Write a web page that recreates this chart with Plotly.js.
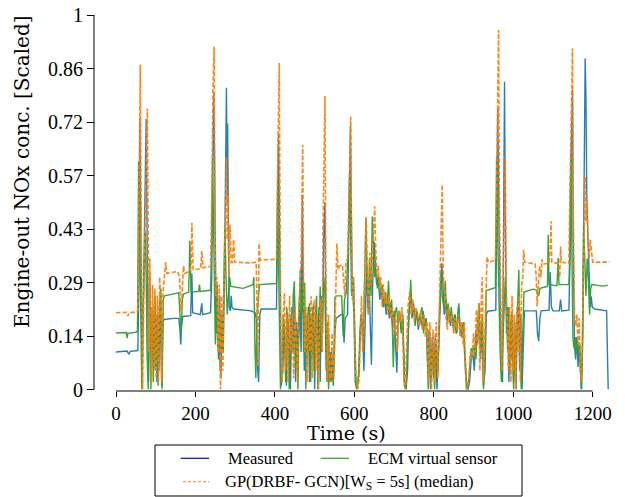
<!DOCTYPE html>
<html>
<head>
<meta charset="utf-8">
<script src="https://cdn.plot.ly/plotly-3.0.1.min.js"></script>
<style>html,body{margin:0;padding:0;background:#fff;}#chart{width:625px;height:497px;}</style>
</head>
<body>
<div id="chart"></div>
<script>
// ---- Data ----
const measuredTime = [0,14,28,32,36,55,58,60,62,64,
 66,69,73,76,78,80,82,85,87,89,
 92,95,98,100,103,105,108,111,113,115,
 118,121,145,158,161,163,165,168,188,191,
 193,212,216,218,238,241,243,246,248,250,
 252,255,258,261,264,267,270,273,276,278,
 280,281,283,285,288,290,292,296,340,350,
 353,356,359,362,365,404,406,409,411,413,
 416,420,423,426,429,432,436,439,443,446,
 449,452,455,458,462,466,469,471,474,477,
 480,484,487,490,494,497,500,504,508,511,
 514,517,520,523,526,528,531,535,539,543,
 547,551,554,566,571,574,577,583,587,590,
 592,595,598,601,604,608,612,616,620,624,
 628,631,634,637,640,643,646,650,653,656,
 660,664,668,672,676,680,684,688,692,696,
 700,704,707,710,714,718,722,726,730,734,
 737,741,745,749,753,757,761,765,769,773,
 777,781,785,788,792,796,800,804,808,812,
 816,820,823,826,830,834,838,842,846,850,
 854,858,862,866,870,874,878,882,886,890,
 894,898,902,906,910,914,918,922,925,929,
 932,936,956,958,961,964,967,970,973,976,
 978,980,983,986,989,992,995,998,1001,1004,
 1007,1010,1013,1016,1019,1022,1025,1028,1058,1061,
 1064,1067,1070,1090,1093,1096,1100,1116,1119,1122,
 1140,1143,1146,1149,1151,1154,1157,1160,1163,1166,
 1169,1172,1175,1178,1181,1183,1185,1188,1191,1194,
 1196,1199,1205,1235,1237,1239];
const measuredValues = [0.100,0.101,0.103,0.094,0.102,0.104,0.30,0.725,0.40,0.20,
 0.03,0.25,0.55,0.723,0.45,0.12,0.02,0.31,0.18,0.02,
 0.22,0.05,0.25,0.12,0.02,0.20,0.05,0.24,0.15,0.01,
 0.18,0.187,0.19,0.19,0.16,0.12,0.17,0.195,0.197,0.31,
 0.205,0.20,0.23,0.20,0.205,0.30,0.55,0.79,0.62,0.35,
 0.15,0.28,0.08,0.25,0.03,0.20,0.10,0.30,0.55,0.806,
 0.50,0.71,0.42,0.22,0.21,0.25,0.22,0.215,0.21,0.205,
 0.19,0.06,0.02,0.20,0.215,0.215,0.40,0.685,0.50,0.20,
 0.01,0.05,0.18,0.10,0.01,0.20,0.12,0.00,0.22,0.10,
 0.25,0.02,0.18,0.09,0.25,0.10,0.52,0.30,0.05,0.20,
 0.06,0.22,0.02,0.20,0.08,0.23,0.00,0.20,0.12,0.22,
 0.02,0.25,0.15,0.42,0.50,0.20,0.02,0.15,0.02,0.10,
 0.01,0.15,0.19,0.20,0.20,0.125,0.19,0.20,0.45,0.704,
 0.50,0.25,0.30,0.15,0.02,0.01,0.05,0.20,0.18,0.05,
 0.25,0.333,0.22,0.30,0.17,0.066,0.28,0.395,0.33,0.28,
 0.30,0.24,0.27,0.22,0.25,0.20,0.24,0.19,0.23,0.17,
 0.21,0.12,0.045,0.18,0.20,0.16,0.19,0.02,0.00,0.05,
 0.20,0.25,0.19,0.23,0.18,0.21,0.16,0.20,0.17,0.21,
 0.17,0.19,0.05,0.16,0.00,0.14,0.03,0.15,0.00,0.10,
 0.20,0.338,0.28,0.20,0.24,0.18,0.21,0.17,0.20,0.16,
 0.20,0.15,0.22,0.17,0.15,0.18,0.10,0.026,0.00,0.02,
 0.08,0.10,0.05,0.16,0.12,0.20,0.08,0.18,0.01,0.05,
 0.20,0.209,0.212,0.40,0.75,0.45,0.20,0.05,0.02,0.50,
 0.822,0.45,0.15,0.22,0.02,0.18,0.08,0.20,0.02,0.15,
 0.00,0.18,0.22,0.05,0.20,0.00,0.15,0.21,0.21,0.15,
 0.129,0.19,0.21,0.212,0.314,0.22,0.21,0.21,0.24,0.21,
 0.212,0.35,0.65,0.80,0.40,0.12,0.08,0.14,0.06,0.12,
 0.05,0.00,0.15,0.60,0.884,0.78,0.52,0.40,0.30,0.22,
 0.249,0.22,0.215,0.21,0.10,0.00];

const ecmTime = [0,20,26,28,30,50,54,57,59,61,
 63,65,68,71,74,76,78,81,84,86,
 88,91,94,97,100,103,106,109,113,116,
 119,122,140,158,161,164,167,170,183,186,
 189,208,210,212,238,241,243,245,247,250,
 253,256,259,262,265,268,271,274,277,280,
 283,286,289,320,345,347,350,352,355,358,
 361,404,407,409,411,414,418,421,424,427,
 430,433,436,440,443,446,449,452,455,458,
 461,464,467,470,472,475,478,481,484,487,
 490,493,496,499,502,505,508,511,514,517,
 520,523,526,529,532,535,539,543,548,551,
 555,568,572,575,580,585,588,590,593,596,
 599,602,606,610,614,618,622,626,629,632,
 635,638,642,645,648,651,654,658,662,666,
 670,674,678,682,686,690,694,698,702,706,
 710,714,718,722,726,730,734,738,742,745,
 749,753,757,761,765,770,774,778,782,786,
 790,794,798,802,806,810,814,818,821,825,
 829,832,836,840,844,848,852,856,860,863,
 866,870,874,878,882,886,890,894,898,902,
 906,910,914,918,922,925,929,932,955,958,
 961,964,967,970,974,977,980,983,986,989,
 992,995,998,1001,1004,1007,1010,1014,1017,1020,
 1024,1027,1050,1060,1064,1067,1086,1088,1090,1110,
 1113,1115,1140,1142,1145,1147,1150,1153,1156,1159,
 1162,1165,1168,1171,1174,1177,1180,1183,1186,1189,
 1192,1195,1198,1225,1238];
const ecmValues = [0.151,0.151,0.152,0.137,0.150,0.153,0.155,0.61,0.45,0.30,
 0.10,0.00,0.20,0.35,0.42,0.30,0.10,0.00,0.28,0.20,
 0.00,0.22,0.02,0.24,0.05,0.20,0.01,0.22,0.27,0.00,
 0.24,0.25,0.255,0.258,0.20,0.15,0.24,0.255,0.26,0.397,
 0.26,0.262,0.28,0.262,0.265,0.40,0.62,0.45,0.30,0.12,
 0.25,0.11,0.20,0.05,0.20,0.10,0.25,0.435,0.30,0.20,
 0.25,0.30,0.275,0.27,0.28,0.30,0.10,0.03,0.20,0.25,
 0.28,0.283,0.565,0.35,0.20,0.00,0.05,0.20,0.15,0.02,
 0.22,0.15,0.00,0.20,0.10,0.25,0.289,0.05,0.15,0.00,
 0.20,0.32,0.20,0.28,0.10,0.285,0.00,0.20,0.10,0.23,
 0.02,0.18,0.22,0.05,0.20,0.25,0.00,0.15,0.275,0.10,
 0.20,0.30,0.25,0.05,0.18,0.00,0.10,0.02,0.05,0.246,
 0.25,0.25,0.142,0.24,0.26,0.40,0.582,0.40,0.25,0.26,
 0.20,0.02,0.00,0.03,0.15,0.20,0.10,0.30,0.46,0.30,
 0.20,0.35,0.25,0.462,0.35,0.30,0.32,0.27,0.30,0.25,
 0.28,0.22,0.26,0.21,0.29,0.20,0.24,0.06,0.20,0.22,
 0.18,0.21,0.15,0.20,0.01,0.00,0.12,0.20,0.293,0.20,
 0.22,0.17,0.21,0.18,0.20,0.22,0.15,0.19,0.16,0.00,
 0.15,0.02,0.13,0.00,0.12,0.05,0.20,0.316,0.25,0.22,
 0.29,0.20,0.23,0.18,0.22,0.17,0.20,0.15,0.18,0.23,
 0.16,0.14,0.17,0.08,0.00,0.00,0.05,0.11,0.10,0.12,
 0.08,0.18,0.23,0.10,0.20,0.00,0.10,0.264,0.272,0.622,
 0.40,0.20,0.10,0.02,0.15,0.25,0.30,0.20,0.10,0.22,
 0.05,0.20,0.10,0.00,0.18,0.05,0.20,0.32,0.10,0.00,
 0.15,0.26,0.268,0.265,0.25,0.27,0.275,0.413,0.28,0.277,
 0.352,0.28,0.28,0.35,0.63,0.35,0.14,0.11,0.14,0.10,
 0.13,0.09,0.12,0.00,0.10,0.44,0.35,0.25,0.35,0.30,
 0.20,0.27,0.28,0.276,0.278];

const gpTime = [0,20,27,30,33,52,55,57,59,61,
 63,65,67,70,73,76,79,81,83,85,
 87,89,92,95,98,101,104,107,110,113,
 115,118,121,125,128,155,160,163,166,170,
 173,185,189,191,194,213,216,219,238,241,
 244,247,249,251,254,257,260,263,266,269,
 272,275,278,280,282,284,287,290,293,296,
 299,340,353,357,360,363,404,407,411,413,
 415,418,421,424,427,430,433,437,440,444,
 447,451,454,457,460,463,466,468,470,472,
 475,478,481,484,488,491,494,497,500,503,
 506,510,513,516,519,521,524,526,528,530,
 532,535,538,541,544,547,550,553,556,559,
 563,570,573,576,579,583,586,589,591,593,
 595,597,600,603,606,609,612,615,618,621,
 624,627,630,633,636,639,642,645,648,651,
 654,657,660,663,666,670,673,677,680,684,
 688,692,696,700,704,708,712,716,720,724,
 728,732,735,739,743,747,751,755,759,763,
 767,771,775,779,783,787,790,794,798,802,
 806,810,814,818,821,824,827,830,834,838,
 842,846,850,854,858,862,866,870,874,877,
 880,884,888,892,896,900,904,907,910,913,
 916,919,922,925,929,932,934,937,955,957,
 960,963,965,968,971,974,977,980,982,985,
 988,991,994,997,1000,1003,1006,1009,1012,1015,
 1018,1021,1024,1026,1029,1055,1058,1060,1063,1066,
 1070,1072,1075,1090,1093,1095,1097,1115,1117,1119,
 1121,1140,1143,1146,1149,1151,1154,1157,1160,1163,
 1166,1169,1172,1175,1178,1181,1183,1185,1188,1191,
 1194,1197,1200,1242];
const gpValues = [0.205,0.205,0.206,0.196,0.205,0.207,0.21,0.40,0.70,0.867,
 0.50,0.20,0.00,0.25,0.40,0.55,0.75,0.40,0.10,0.35,
 0.15,0.02,0.28,0.05,0.27,0.03,0.25,0.02,0.30,0.20,
 0.02,0.25,0.29,0.34,0.31,0.315,0.30,0.21,0.25,0.33,
 0.31,0.315,0.33,0.445,0.32,0.322,0.37,0.325,0.328,0.50,
 0.80,0.915,0.50,0.25,0.30,0.10,0.28,0.00,0.25,0.05,
 0.30,0.50,0.62,0.40,0.52,0.30,0.44,0.34,0.34,0.40,
 0.34,0.338,0.34,0.06,0.39,0.345,0.348,0.60,0.872,0.45,
 0.15,0.02,0.20,0.258,0.05,0.20,0.02,0.25,0.10,0.20,
 0.03,0.22,0.14,0.02,0.20,0.30,0.35,0.50,0.653,0.30,
 0.10,0.22,0.02,0.20,0.10,0.249,0.03,0.22,0.24,0.05,
 0.20,0.00,0.20,0.24,0.10,0.42,0.60,0.784,0.35,0.10,
 0.02,0.20,0.03,0.02,0.15,0.02,0.10,0.25,0.39,0.32,
 0.33,0.333,0.30,0.25,0.34,0.35,0.50,0.65,0.728,0.40,
 0.24,0.30,0.20,0.05,0.02,0.00,0.03,0.15,0.25,0.10,
 0.20,0.35,0.46,0.30,0.20,0.365,0.28,0.35,0.42,0.489,
 0.37,0.30,0.33,0.27,0.30,0.22,0.28,0.23,0.26,0.20,
 0.25,0.19,0.22,0.15,0.20,0.10,0.21,0.18,0.22,0.05,
 0.00,0.10,0.22,0.26,0.20,0.24,0.18,0.22,0.20,0.17,
 0.21,0.16,0.20,0.14,0.18,0.02,0.18,0.00,0.16,0.02,
 0.18,0.03,0.20,0.35,0.547,0.30,0.27,0.20,0.16,0.22,
 0.18,0.20,0.15,0.19,0.16,0.20,0.14,0.18,0.12,0.18,
 0.05,0.00,0.02,0.10,0.08,0.15,0.10,0.213,0.12,0.23,
 0.05,0.22,0.30,0.02,0.20,0.33,0.355,0.34,0.345,0.45,
 0.80,0.96,0.50,0.20,0.05,0.25,0.45,0.62,0.30,0.20,
 0.05,0.22,0.02,0.25,0.05,0.20,0.00,0.22,0.10,0.25,
 0.02,0.28,0.30,0.373,0.34,0.335,0.30,0.222,0.28,0.33,
 0.30,0.347,0.335,0.337,0.38,0.449,0.34,0.336,0.30,0.382,
 0.34,0.337,0.55,0.80,0.911,0.50,0.20,0.17,0.20,0.12,
 0.19,0.05,0.02,0.20,0.40,0.569,0.45,0.50,0.42,0.35,
 0.40,0.36,0.34,0.34];

const seriesNames = ['Measured', 'ECM virtual sensor', 'GP(DRBF- GCN)[W<sub>S</sub> = 5s] (median)'];
const xTickValues = [0, 200, 400, 600, 800, 1000, 1200];
const yTickLabels = ['0', '0.14', '0.29', '0.43', '0.57', '0.72', '0.86', '1'];
const xTitle = 'Time (s)';
const yTitle = 'Engine-out NOx conc. [Scaled]';

// ---- Layout helpers (pixels -> paper) ----
const W = 625, H = 497, ML = 94, MR = 15, MT = 15, MB = 106;
const PW = W - ML - MR, PH = H - MT - MB;
const px = x => (x - ML) / PW;
const py = y => (H - MB - y) / PH;

const FONT = 'Liberation Serif, Times New Roman, serif';
const TFONT = 'DejaVu Serif, Liberation Serif, serif';
const blue = '#1f77b4', green = '#2ca02c', orange = '#ff7f0e';

const traces = [
  {x: measuredTime, y: measuredValues, type: 'scatter', mode: 'lines', name: seriesNames[0],
   line: {color: blue, width: 1.4}, opacity: 0.95, showlegend: false},
  {x: ecmTime, y: ecmValues, type: 'scatter', mode: 'lines', name: seriesNames[1],
   line: {color: green, width: 1.4}, opacity: 0.95, showlegend: false},
  {x: gpTime, y: gpValues, type: 'scatter', mode: 'lines', name: seriesNames[2],
   line: {color: orange, width: 1.6, dash: '4.5px,2px'}, opacity: 0.95, showlegend: false}
];

const yTickVals = yTickLabels.map((_, i) => i / (yTickLabels.length - 1));

const legendRow1 = py(458.3), legendRow2 = py(481.7);

const layout = {
  width: W, height: H,
  margin: {l: ML, r: MR, t: MT, b: MB, pad: 0},
  paper_bgcolor: '#fff', plot_bgcolor: '#fff',
  font: {family: FONT, size: 20, color: '#000'},
  showlegend: false,
  xaxis: {
    domain: [px(116), 1], range: [0, 1243.5], anchor: 'free', position: 0,
    tickvals: xTickValues, ticks: 'outside', ticklen: 5, tickwidth: 1, tickcolor: '#000',
    showline: false, showgrid: false, zeroline: false,
    tickfont: {family: FONT, size: 19, color: '#000'}
  },
  yaxis: {
    domain: [py(389.5), 1], range: [0, 1], anchor: 'free', position: 0,
    tickvals: yTickVals, ticktext: yTickLabels, ticks: 'outside', ticklen: 7, tickwidth: 1, tickcolor: '#000',
    showline: false, showgrid: false, zeroline: false,
    tickfont: {family: FONT, size: 20, color: '#000'}
  },
  shapes: [
    // y spine (offset) and x spine (trimmed at 1200)
    {type: 'line', xref: 'paper', yref: 'paper', x0: 0, x1: 0, y0: py(389.5), y1: 1, line: {color: '#000', width: 1}},
    {type: 'line', xref: 'paper', yref: 'paper', x0: px(116), x1: px(592.7), y0: 0, y1: 0, line: {color: '#000', width: 1}},
    // legend box
    {type: 'rect', xref: 'paper', yref: 'paper', x0: px(155), x1: px(522), y0: py(445), y1: py(496),
     line: {color: '#000', width: 1}, fillcolor: 'rgba(255,255,255,0)'},
    // legend samples
    {type: 'line', xref: 'paper', yref: 'paper', x0: px(180.7), x1: px(209), y0: legendRow1, y1: legendRow1,
     line: {color: '#1515ee', width: 1.3}},
    {type: 'line', xref: 'paper', yref: 'paper', x0: px(320.7), x1: px(349), y0: legendRow1, y1: legendRow1,
     line: {color: '#3aaa3a', width: 1.3}},
    {type: 'line', xref: 'paper', yref: 'paper', x0: px(183), x1: px(209), y0: legendRow2, y1: legendRow2,
     line: {color: '#ff9a4d', width: 1.3, dash: '3px,2px'}}
  ],
  annotations: [
    {text: xTitle, xref: 'paper', yref: 'paper', x: px(346), y: py(433), xanchor: 'center', yanchor: 'middle',
     showarrow: false, font: {family: TFONT, size: 19, color: '#000'}},
    {text: yTitle, xref: 'paper', yref: 'paper', x: px(22), y: py(172), xanchor: 'center', yanchor: 'middle',
     textangle: -90, showarrow: false, font: {family: TFONT, size: 20, color: '#000'}},
    {text: seriesNames[0], xref: 'paper', yref: 'paper', x: px(226), y: legendRow1, xanchor: 'left', yanchor: 'middle',
     showarrow: false, font: {family: FONT, size: 16.5, color: '#000'}},
    {text: seriesNames[1], xref: 'paper', yref: 'paper', x: px(366), y: legendRow1, xanchor: 'left', yanchor: 'middle',
     showarrow: false, font: {family: FONT, size: 16.5, color: '#000'}},
    {text: seriesNames[2], xref: 'paper', yref: 'paper', x: px(223), y: legendRow2, xanchor: 'left', yanchor: 'middle',
     showarrow: false, font: {family: FONT, size: 16.5, color: '#000'}}
  ]
};

Plotly.newPlot('chart', traces, layout, {staticPlot: true, displayModeBar: false});
</script>
</body>
</html>
